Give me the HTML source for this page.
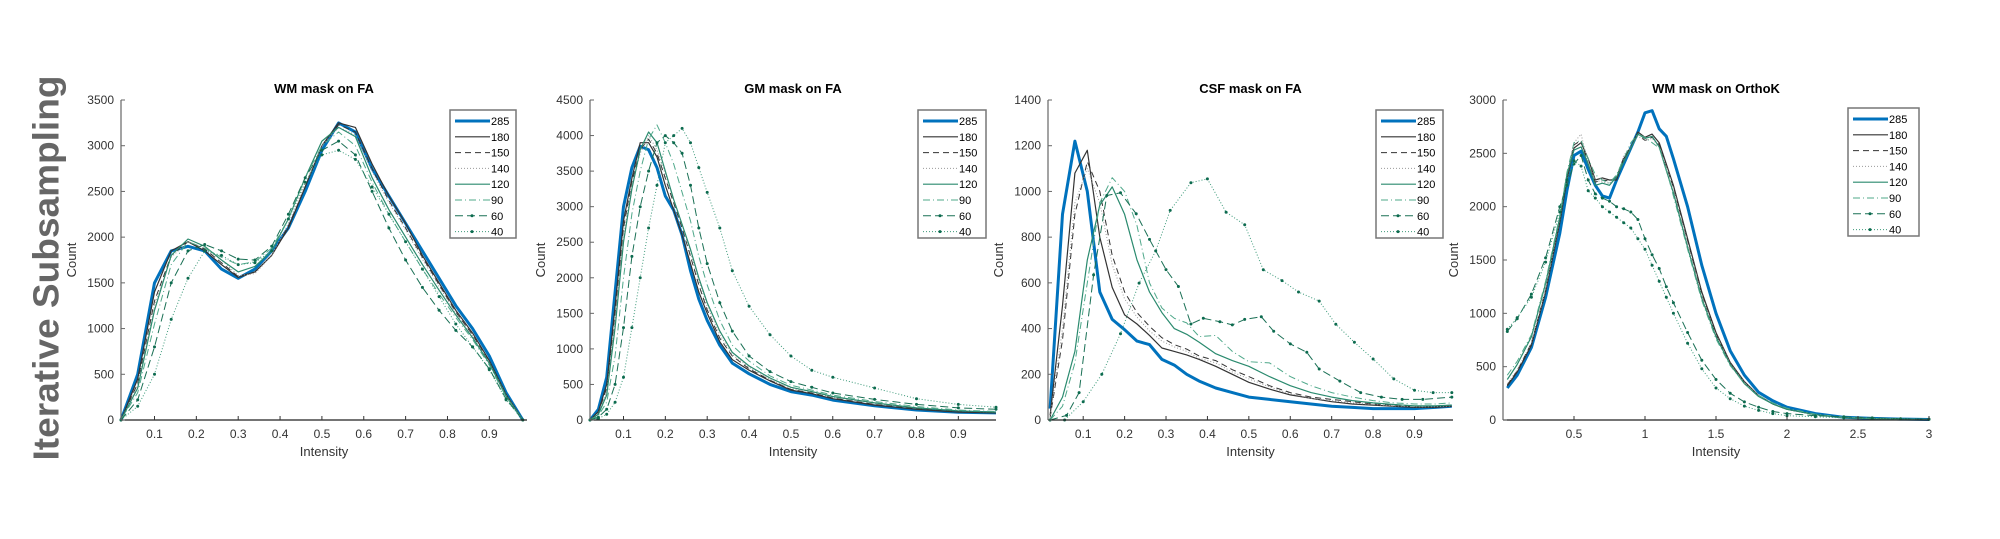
<!DOCTYPE html>
<html><head><meta charset="utf-8"><style>
html,body{margin:0;padding:0;background:#fff;}
svg{display:block;font-family:"Liberation Sans",Arial,sans-serif;}
</style></head><body>
<svg id="fig" width="2000" height="539" viewBox="0 0 2000 539" xmlns="http://www.w3.org/2000/svg">
<text x="46" y="268" transform="rotate(-90 46 268)" text-anchor="middle" dominant-baseline="central" font-size="36" font-weight="bold" fill="#666" textLength="385" lengthAdjust="spacingAndGlyphs">Iterative Subsampling</text>
</svg>
<script>
const seriesNames = ["285","180","150","140","120","90","60","40"];
// Panel 1: WM mask on FA
const p1X = [0.02,0.06,0.10,0.14,0.18,0.22,0.26,0.30,0.34,0.38,0.42,0.46,0.50,0.54,0.58,0.62,0.66,0.70,0.74,0.78,0.82,0.86,0.90,0.94,0.98];
const p1_285 = [0,500,1500,1850,1900,1850,1650,1550,1650,1850,2100,2500,2950,3250,3150,2750,2450,2150,1850,1550,1250,1000,700,300,0];
const p1_180 = [0,450,1400,1850,1950,1850,1700,1560,1620,1800,2100,2550,3000,3250,3200,2800,2450,2150,1800,1500,1200,950,650,280,0];
const p1_150 = [0,400,1300,1800,1950,1870,1720,1570,1620,1800,2120,2550,3000,3230,3150,2750,2400,2100,1780,1480,1180,930,640,270,0];
const p1_140 = [0,380,1250,1780,1950,1880,1750,1580,1600,1800,2150,2580,3000,3200,3120,2720,2380,2080,1760,1460,1170,920,630,270,0];
const p1_120 = [0,350,1200,1800,1980,1900,1750,1620,1680,1850,2200,2650,3050,3200,3100,2650,2300,2000,1700,1420,1150,900,620,260,0];
const p1_90 = [0,300,1050,1700,1950,1880,1780,1700,1730,1880,2200,2650,3000,3150,3000,2600,2250,1950,1650,1380,1120,880,600,250,0];
const p1_60 = [0,220,800,1500,1850,1920,1850,1760,1750,1900,2250,2650,2950,3050,2900,2500,2100,1750,1450,1200,980,800,560,230,0];
const p1_40 = [0,150,500,1100,1550,1850,1800,1700,1720,1850,2200,2600,2900,2950,2850,2550,2250,1950,1650,1350,1050,800,550,220,0];
const p1XTicks = [0.1,0.2,0.3,0.4,0.5,0.6,0.7,0.8,0.9];
const p1YTicks = [0,500,1000,1500,2000,2500,3000,3500];
// Panel 2: GM mask on FA
const p2X = [0.02,0.04,0.06,0.08,0.10,0.12,0.14,0.16,0.18,0.20,0.22,0.24,0.26,0.28,0.30,0.33,0.36,0.40,0.45,0.50,0.55,0.60,0.70,0.80,0.90,0.99];
const p2_285 = [0,150,600,1800,3000,3550,3850,3800,3550,3150,2950,2600,2100,1700,1400,1050,800,650,500,400,350,280,200,140,110,100];
const p2_180 = [0,120,500,1600,2800,3400,3900,3900,3700,3300,2950,2600,2200,1800,1500,1100,850,700,550,420,370,300,210,150,110,100];
const p2_150 = [0,100,450,1500,2700,3350,3800,3950,3750,3400,3050,2700,2300,1900,1550,1150,900,720,560,430,380,310,220,160,120,100];
const p2_140 = [0,90,400,1400,2600,3300,3750,4000,3800,3450,3100,2750,2350,1950,1600,1200,920,740,570,440,390,320,230,170,130,110];
const p2_120 = [0,80,350,1300,2500,3250,3800,4050,3900,3500,3100,2750,2400,2000,1650,1250,950,760,590,460,400,330,240,170,130,110];
const p2_90 = [0,60,250,900,2000,2900,3500,3950,4150,3900,3600,3200,2800,2300,1900,1400,1050,830,620,490,420,350,260,190,140,120];
const p2_60 = [0,40,150,500,1300,2300,3000,3500,3900,4000,3900,3750,3300,2700,2200,1650,1250,900,680,540,460,380,290,220,170,150];
const p2_40 = [0,20,80,250,600,1300,2000,2700,3300,3900,4000,4100,3900,3550,3200,2700,2100,1600,1200,900,700,600,450,300,220,180];
const p2XTicks = [0.1,0.2,0.3,0.4,0.5,0.6,0.7,0.8,0.9];
const p2YTicks = [0,500,1000,1500,2000,2500,3000,3500,4000,4500];
// Panel 3: CSF mask on FA
const p3X = [0.02,0.05,0.08,0.11,0.14,0.17,0.20,0.23,0.26,0.29,0.32,0.35,0.38,0.42,0.46,0.50,0.55,0.60,0.65,0.70,0.75,0.80,0.85,0.90,0.95,0.99];
const p3_285 = [50,900,1220,1000,560,440,395,345,330,265,240,200,170,140,120,100,90,80,70,60,55,50,50,50,55,60];
const p3_180 = [20,500,1080,1180,800,580,460,420,370,315,300,285,265,235,200,165,135,110,95,80,70,65,60,55,55,60];
const p3_150 = [10,350,900,1130,1000,720,560,470,410,360,330,310,280,260,220,190,150,120,100,90,80,70,65,60,60,65];
const p3_140 = [10,400,950,1100,950,680,530,450,390,345,320,300,270,250,210,180,145,115,95,85,75,68,62,58,58,62];
const p3_120 = [0,100,300,700,940,1020,900,700,560,470,400,375,340,290,260,235,190,150,120,100,85,75,68,62,62,65];
const p3_90 = [0,60,250,600,950,1060,1000,850,600,490,445,425,365,370,300,255,250,190,150,120,100,85,75,70,70,75];
const p3X60 = [0.02,0.06,0.09,0.125,0.157,0.19,0.228,0.26,0.30,0.33,0.36,0.39,0.43,0.46,0.49,0.53,0.56,0.60,0.64,0.67,0.72,0.77,0.82,0.87,0.92,0.99];
const p3_60 = [0,20,120,635,982,994,902,790,658,584,420,445,430,416,440,452,388,333,296,223,170,120,100,90,90,100];
const p3X40 = [0.02,0.055,0.10,0.145,0.19,0.235,0.275,0.31,0.36,0.40,0.445,0.49,0.535,0.58,0.62,0.67,0.71,0.755,0.80,0.85,0.90,0.945,0.99];
const p3_40 = [0,0,80,200,377,599,740,917,1038,1055,909,854,657,610,560,520,419,340,267,180,130,120,120];
const p3XTicks = [0.1,0.2,0.3,0.4,0.5,0.6,0.7,0.8,0.9];
const p3YTicks = [0,200,400,600,800,1000,1200,1400];
// Panel 4: WM mask on OrthoK
const p4X = [0.03,0.1,0.2,0.3,0.4,0.45,0.5,0.55,0.6,0.65,0.7,0.75,0.8,0.85,0.9,0.95,1.0,1.05,1.1,1.15,1.2,1.3,1.4,1.5,1.6,1.7,1.8,1.9,2.0,2.2,2.4,2.6,2.8,3.0];
const p4_285 = [300,420,680,1150,1750,2150,2480,2520,2350,2200,2100,2080,2250,2400,2550,2700,2880,2900,2730,2660,2450,2000,1450,1000,650,420,260,180,120,60,25,15,8,5];
const p4_180 = [320,450,700,1200,1850,2250,2550,2600,2450,2250,2270,2250,2250,2450,2550,2700,2650,2680,2600,2400,2200,1700,1200,820,540,360,230,150,100,50,22,12,8,5];
const p4_150 = [330,460,720,1220,1880,2280,2580,2620,2400,2230,2250,2240,2280,2460,2560,2680,2620,2650,2580,2380,2180,1680,1180,800,530,350,230,150,100,50,22,12,8,5];
const p4_140 = [340,470,720,1220,1880,2300,2600,2680,2400,2250,2230,2220,2280,2480,2560,2660,2620,2640,2560,2380,2170,1660,1170,800,530,350,230,150,100,50,22,12,8,5];
const p4_120 = [380,520,780,1280,1900,2300,2530,2560,2400,2200,2220,2200,2280,2420,2550,2680,2640,2660,2560,2340,2130,1620,1140,780,520,340,220,150,100,50,22,12,8,5];
const p4_90 = [420,550,800,1300,1920,2320,2600,2620,2450,2300,2250,2220,2300,2450,2600,2680,2650,2600,2550,2350,2100,1600,1120,760,510,340,230,160,110,55,25,15,8,5];
const p4_60 = [830,950,1180,1520,2000,2200,2400,2480,2250,2120,2080,2050,2000,1980,1950,1880,1700,1550,1420,1250,1100,820,560,380,250,170,120,80,60,40,30,20,12,8];
const p4_40 = [850,960,1150,1480,1950,2250,2430,2380,2150,2080,2000,1950,1900,1850,1800,1700,1600,1450,1300,1150,1000,720,480,300,200,130,90,60,40,30,20,15,10,6];
const p4XTicks = [0.5,1,1.5,2,2.5,3];
const p4YTicks = [0,500,1000,1500,2000,2500,3000];

const NS = "http://www.w3.org/2000/svg";
const svg = document.getElementById('fig');
const styles = [
  {c:"#0072BD", w:3, d:"", dot:false},
  {c:"#333333", w:1.2, d:"", dot:false},
  {c:"#333333", w:1, d:"6,4", dot:false},
  {c:"#999999", w:1, d:"1,2", dot:false},
  {c:"#2a8a6e", w:1.2, d:"", dot:false},
  {c:"#4fa88a", w:1, d:"7,3,1,3", dot:false},
  {c:"#1a7055", w:1, d:"8,4", dot:true},
  {c:"#3d9a7a", w:1, d:"1,2", dot:true}
];
function mk(tag, attrs, parent){
  const e = document.createElementNS(NS, tag);
  for (const k in attrs) e.setAttribute(k, attrs[k]);
  (parent||svg).appendChild(e);
  return e;
}
const panels = [
  {key:"wm-fa", title:"WM mask on FA", x0:121, x1:527, xmin:0.02, xmax:0.99, ymax:3500, xt:p1XTicks, yt:p1YTicks,
   xs:[p1X,p1X,p1X,p1X,p1X,p1X,p1X,p1X], ys:[p1_285,p1_180,p1_150,p1_140,p1_120,p1_90,p1_60,p1_40], lx:450, ly:110, lw:66},
  {key:"gm-fa", title:"GM mask on FA", x0:590, x1:996, xmin:0.02, xmax:0.99, ymax:4500, xt:p2XTicks, yt:p2YTicks,
   xs:[p2X,p2X,p2X,p2X,p2X,p2X,p2X,p2X], ys:[p2_285,p2_180,p2_150,p2_140,p2_120,p2_90,p2_60,p2_40], lx:918, ly:110, lw:68},
  {key:"csf-fa", title:"CSF mask on FA", x0:1048, x1:1453, xmin:0.015, xmax:0.993, ymax:1400, xt:p3XTicks, yt:p3YTicks,
   xs:[p3X,p3X,p3X,p3X,p3X,p3X,p3X60,p3X40], ys:[p3_285,p3_180,p3_150,p3_140,p3_120,p3_90,p3_60,p3_40], lx:1376, ly:110, lw:67},
  {key:"wm-orthok", title:"WM mask on OrthoK", x0:1503, x1:1929, xmin:0, xmax:3, ymax:3000, xt:p4XTicks, yt:p4YTicks,
   xs:[p4X,p4X,p4X,p4X,p4X,p4X,p4X,p4X], ys:[p4_285,p4_180,p4_150,p4_140,p4_120,p4_90,p4_60,p4_40], lx:1848, ly:108, lw:71}
];
const Y0 = 100, Y1 = 420;
panels.forEach(p => {
  const g = mk('g', {});
  
  
  const sx = v => p.x0 + (v - p.xmin) / (p.xmax - p.xmin) * (p.x1 - p.x0);
  const sy = v => Y1 - v / p.ymax * (Y1 - Y0);
  // series
  p.ys.forEach((arr, i) => {
    const st = styles[i];
    const xs = p.xs[i];
    const pts = arr.map((v, j) => sx(xs[j]).toFixed(1) + "," + sy(v).toFixed(1)).join(" ");
    const pl = mk('polyline', {points: pts, fill: "none", stroke: st.c, "stroke-width": st.w, "stroke-dasharray": st.d, "stroke-linejoin": "round"}, g);
    
    
    if (st.dot) {
      arr.forEach((v, j) => {
        const c = mk('circle', {cx: sx(xs[j]).toFixed(1), cy: sy(v).toFixed(1), r: 1.5, fill: "#0d6b4f"}, g);
        
        
      });
    }
  });
  // axes
  const ax = mk('line', {x1:p.x0, y1:Y0, x2:p.x0, y2:Y1, stroke:"#666", "stroke-width":1.2}, g);
  
  
  const bx = mk('line', {x1:p.x0, y1:Y1, x2:p.x1, y2:Y1, stroke:"#222", "stroke-width":1.2}, g);
  
  
  p.yt.forEach(t => {
    mk('line', {x1:p.x0, y1:sy(t), x2:p.x0+4, y2:sy(t), stroke:"#666"}, g);
    const tx = mk('text', {x:p.x0-7, y:sy(t)+4, "text-anchor":"end", "font-size":12, fill:"#333"}, g);
    tx.textContent = t;
    
    
  });
  p.xt.forEach(t => {
    mk('line', {x1:sx(t), y1:Y1, x2:sx(t), y2:Y1-4, stroke:"#333"}, g);
    const tx = mk('text', {x:sx(t), y:438, "text-anchor":"middle", "font-size":12, fill:"#333"}, g);
    tx.textContent = t;
    
    
  });
  const xl = mk('text', {x:(p.x0+p.x1)/2, y:456, "text-anchor":"middle", "font-size":13, fill:"#333"}, g);
  xl.textContent = "Intensity";
  
  
  const yl = mk('text', {x:p.x0-45, y:260, "text-anchor":"middle", "font-size":13, fill:"#333", transform:"rotate(-90 " + (p.x0-45) + " 260)"}, g);
  yl.textContent = "Count";
  
  
  const ti = mk('text', {x:(p.x0+p.x1)/2, y:93, "text-anchor":"middle", "font-size":13, "font-weight":"bold", fill:"#000"}, g);
  ti.textContent = p.title;
  
  
  // legend
  const lg = mk('g', {}, g);
  
  
  mk('rect', {x:p.lx, y:p.ly, width:p.lw, height:128, fill:"#fff", stroke:"#777", "stroke-width":1.5}, lg);
  seriesNames.forEach((n, i) => {
    const st = styles[i];
    const yy = p.ly + 11 + i * 15.8;
    const le = mk('g', {}, lg);
    
    
    mk('line', {x1:p.lx+5, y1:yy, x2:p.lx+40, y2:yy, stroke:st.c, "stroke-width":st.w, "stroke-dasharray":st.d}, le);
    if (st.dot) mk('circle', {cx:p.lx+22, cy:yy, r:1.5, fill:"#0d6b4f"}, le);
    const lt = mk('text', {x:p.lx+41, y:yy+4, "font-size":11, fill:"#000"}, le);
    lt.textContent = n;
  });
});
</script>
</body></html>
